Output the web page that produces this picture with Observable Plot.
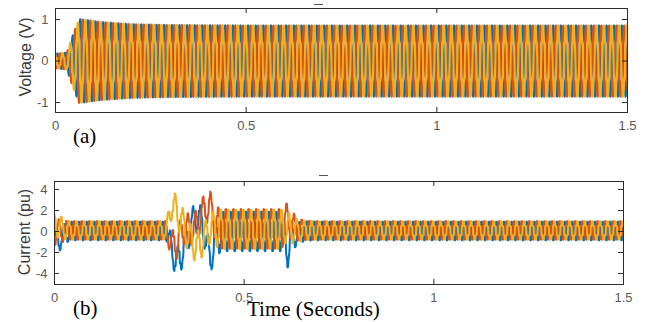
<!DOCTYPE html>
<html><head><meta charset="utf-8">
<script src="https://cdn.jsdelivr.net/npm/d3@7"></script>
<script src="https://cdn.jsdelivr.net/npm/@observablehq/plot@0.6"></script>
<style>
html,body{margin:0;padding:0;background:#fff;}
#wrap{position:relative;width:649px;height:322px;overflow:hidden;background:#fff;}
#wrap > svg{position:absolute;}
</style></head><body><div id="wrap"></div>
<script>
// ---------- data ----------
const phaseNames  = ["Phase A", "Phase B", "Phase C"];
const phaseColors = ["#0072BD", "#D95319", "#EDB120"];
const phaseShiftDeg = [0, -120, 120];
const fundamentalHz = 50;
const timeTicks    = [0, 0.5, 1, 1.5];
const voltageTicks = [-1, 0, 1];
const currentTicks = [-4, -2, 0, 2, 4];

// harmonic content [order, relative amplitude]
const voltageHarmonics = [[1, 1], [5, 0.06], [7, 0.04]];
const currentHarmonics = [[1, 1], [5, 0.12], [7, 0.08], [11, 0.05]];

// (a) voltage envelope (peak, V) at times (s)
const vEnvTime = [0, 0.03, 0.045, 0.062, 0.08, 0.12, 0.2, 0.3, 0.5, 1.5];
const vEnvAmp  = [0.17, 0.2, 0.6, 0.99, 0.97, 0.92, 0.87, 0.85, 0.84, 0.84];

// (b) current: 50 Hz amplitude and slow offset per phase (pu) at times (s)
const iTime    = [0, 0.01, 0.02, 0.04, 0.295, 0.31, 0.323, 0.34, 0.355, 0.37, 0.38, 0.395, 0.41, 0.425, 0.44, 0.6, 0.608, 0.615, 0.625, 0.64, 0.66, 0.7, 1.5];
const iAmp     = [1.2, 1.1, 0.95, 0.82, 0.82, 1.3, 1.4, 1.4, 1.4, 1.4, 1.4, 1.4, 1.3, 1.6, 1.75, 1.75, 1.5, 1.4, 1.3, 1.0, 0.85, 0.82, 0.82];
const iOffsetA = [-0.9, -0.9, -0.4, 0.05, 0.05, -1.8, -3.0, -1.7, 0, 1.3, 1.4, 0, -2.7, -0.7, 0, 0, -1.2, -2.0, -0.5, -0.2, 0.05, 0.05, 0.05];
const iOffsetB = [0, 0, 0, 0.1, 0.1, -1.3, -1.1, 0.3, 0.2, 0.3, 1.1, 2.0, 2.5, 0.7, 0.25, 0.25, 1.0, 1.2, 0.6, 0.2, 0.1, 0.1, 0.1];
const iOffsetC = [0.7, 0.6, 0.3, 0.1, 0.1, 2.7, 1.8, 0.6, -0.6, -1.3, -1.4, -0.6, 0.3, 0.3, 0.2, 0.2, 0.5, 0.3, 0.2, 0.1, 0.1, 0.1, 0.1];
const iOffsets = [iOffsetA, iOffsetB, iOffsetC];

// ---------- build waveform tables ----------
const dt = 0.0002, tEnd = 1.5;
const nSamples = Math.round(tEnd / dt);
const vEnv = d3.scaleLinear(vEnvTime, vEnvAmp).clamp(true);
const iAmpS = d3.scaleLinear(iTime, iAmp).clamp(true);
const iOffS = iOffsets.map(o => d3.scaleLinear(iTime, o).clamp(true));
function wave(harm, t, p) {
  const th = 2 * Math.PI * fundamentalHz * t + phaseShiftDeg[p] * Math.PI / 180;
  let s = 0;
  for (const [h, a] of harm) s += a * Math.sin(h * th);
  return s;
}
const vData = [], iData = [];
phaseNames.forEach((name, p) => {
  for (let k = 0; k <= nSamples; k++) {
    const t = k * dt;
    vData.push({t, v: vEnv(t) * wave(voltageHarmonics, t, p), phase: name});
    iData.push({t, v: iOffS[p](t) + iAmpS(t) * wave(currentHarmonics, t, p), phase: name});
  }
});

// ---------- panels ----------
const font = "'Liberation Sans', Arial, Helvetica, sans-serif";
function panel({data, width, height, mL, mR, mT, mB, yDomain, yTicks, sw}) {
  const fw = width - mL - mR, fh = height - mT - mB, tl = 5;
  return Plot.plot({
    width, height, marginLeft: mL, marginRight: mR, marginTop: mT, marginBottom: mB,
    x: {domain: [0, 1.5]},
    y: {domain: yDomain},
    color: {domain: phaseNames, range: phaseColors},
    style: {fontFamily: font, fontSize: "13px", color: "#5a5a5a", background: "transparent", overflow: "visible"},
    marks: [
      Plot.line(data, {x: "t", y: "v", z: "phase", stroke: "phase", strokeWidth: sw, clip: true}),
      Plot.frame({stroke: "#2b2b2b", strokeWidth: 1}),
      Plot.tickY(yTicks, {y: d => d, insetRight: fw - tl, stroke: "#2b2b2b"}),
      Plot.tickY(yTicks, {y: d => d, insetLeft: fw - tl, stroke: "#2b2b2b"}),
      Plot.tickX(timeTicks, {x: d => d, insetTop: fh - tl, stroke: "#2b2b2b"}),
      Plot.tickX(timeTicks, {x: d => d, insetBottom: fh - tl, stroke: "#2b2b2b"}),
      Plot.axisX({ticks: timeTicks, tickSize: 0, tickPadding: 8, tickFormat: d => String(d), label: null}),
      Plot.axisY({ticks: yTicks, tickSize: 0, tickPadding: 7, tickFormat: d => String(d), label: null})
    ]
  });
}

const wrap = document.getElementById("wrap");
const topPanel = panel({data: vData, width: 649, height: 145, mL: 55, mR: 22, mT: 8, mB: 33, yDomain: [-1.24, 1.265], yTicks: voltageTicks, sw: 2.1});
topPanel.style.left = "0px"; topPanel.style.top = "0px";
wrap.appendChild(topPanel);
const botPanel = panel({data: iData, width: 632, height: 150, mL: 54, mR: 9, mT: 21, mB: 26, yDomain: [-5.05, 4.76], yTicks: currentTicks, sw: 2.0});
botPanel.style.left = "0px"; botPanel.style.top = "160px";
wrap.appendChild(botPanel);

// ---------- labels overlay ----------
const ns = "http://www.w3.org/2000/svg";
const ov = document.createElementNS(ns, "svg");
ov.setAttribute("width", 649); ov.setAttribute("height", 322);
ov.style.left = "0px"; ov.style.top = "0px"; ov.style.pointerEvents = "none";
function txt(s, attrs) {
  const e = document.createElementNS(ns, "text");
  for (const k in attrs) e.setAttribute(k, attrs[k]);
  e.textContent = s; ov.appendChild(e);
}
txt("Voltage (V)", {transform: "translate(31,57) rotate(-90)", "text-anchor": "middle", "font-family": font, "font-size": 16, fill: "#3a3a3a"});
txt("Current (pu)", {transform: "translate(30,232) rotate(-90)", "text-anchor": "middle", "font-family": font, "font-size": 16, fill: "#3a3a3a"});
const serif = "'Liberation Serif', 'Times New Roman', Times, serif";
txt("(a)", {x: 73, y: 143, "font-family": serif, "font-size": 21, fill: "#000"});
txt("(b)", {x: 73, y: 315, "font-family": serif, "font-size": 21, fill: "#000"});
txt("Time (Seconds)", {x: 247, y: 316, "font-family": serif, "font-size": 21, fill: "#000"});
function dash(x1, x2, y) {
  const l = document.createElementNS(ns, "line");
  l.setAttribute("x1", x1); l.setAttribute("x2", x2); l.setAttribute("y1", y); l.setAttribute("y2", y);
  l.setAttribute("stroke", "#555"); l.setAttribute("stroke-width", 1); ov.appendChild(l);
}
dash(314, 323, 4.5);
dash(319, 328, 175.5);
wrap.appendChild(ov);
</script></body></html>
